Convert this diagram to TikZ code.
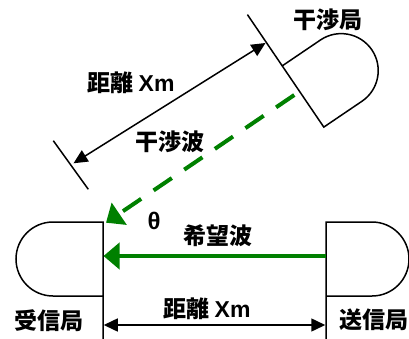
\documentclass[tikz,border=0pt]{standalone}
\usepackage{fontspec}
\setmainfont{Noto Sans CJK JP}
\newfontfamily\latinf{Liberation Sans}
\usetikzlibrary{arrows.meta}
\definecolor{wavegreen}{RGB}{0,128,0}
\begin{document}
\begin{tikzpicture}[x=1pt,y=-1pt,
  outline/.style={draw=black,line width=1.5pt,line join=miter},
  dimarrow/.style={draw=black,line width=1.5pt,{Triangle[length=14pt,width=13pt]}-{Triangle[length=14pt,width=13pt]}},
  wave/.style={draw=wavegreen,line width=4pt,-{Triangle[length=16pt,width=26pt]}},
  dashwave/.style={wave,dash pattern=on 22pt off 15pt},
  lbl/.style={font=\fontsize{23}{23}\selectfont\bfseries,inner sep=0pt},
  thetalbl/.style={font=\fontsize{24}{24}\selectfont\latinf\bfseries,inner sep=0pt}
]
\useasboundingbox (0,0) rectangle (409,339);
\clip (0,0) rectangle (409,339);

% named points
\coordinate (rxTop) at (103,222);
\coordinate (rxBot) at (103,339);
\coordinate (txTop) at (326,222);
\coordinate (txBot) at (326,339);
\coordinate (ifA) at (282.2,65.9);
\coordinate (ifB) at (323.8,127.1);
\coordinate (ifLineTop) at (247.4,14.6);
\coordinate (tickA) at (53.3,140.7);
\coordinate (tickB) at (88.3,189.3);
\coordinate (distUpEnd) at (265.5,43);
\coordinate (distLowEnd) at (73.5,163.3);
\coordinate (ifOut) at (294.3,95);
\coordinate (rxIfIn) at (106,222.7);
\coordinate (txOut) at (326,256);
\coordinate (rxIn) at (103.5,256);
\coordinate (dimL) at (103.75,325);
\coordinate (dimR) at (325.25,325);

% receiving station
\draw[outline] (rxBot) -- (rxTop) -- (53,222) arc[start angle=90,end angle=270,radius=37pt] -- (103,296);
% sending station
\draw[outline] (txBot) -- (txTop) -- (372,222) arc[start angle=90,end angle=-90,radius=37pt] -- (326,296);
% interfering station
\draw[outline] (ifLineTop) -- (ifB) -- (361.9,101.3) arc[start angle=-56,end angle=124,radius=37pt] -- (ifA);
% tick line
\draw[outline] (tickA) -- (tickB);

% distance arrows
\draw[dimarrow] (distLowEnd) -- (distUpEnd);
\draw[dimarrow] (dimL) -- (dimR);

% waves
\draw[dashwave] (ifOut) -- (rxIfIn);
\draw[wave] (txOut) -- (rxIn);

% labels
\node[lbl] (intLbl) at (328,20) {干渉局};
\node[lbl] (distUp) at (131,82.5) {距離 {\latinf Xm}};
\node[lbl] (intWave) at (170,142) {干渉波};
\node[thetalbl] (theta) at (154,221) {θ};
\node[lbl] (desWave) at (218,236) {希望波};
\node[lbl] (distLow) at (207,309) {距離 {\latinf Xm}};
\node[lbl] (rxLbl) at (49,321) {受信局};
\node[lbl,anchor=west] (txLbl) at (339,320) {送信局};
\end{tikzpicture}
\end{document}
